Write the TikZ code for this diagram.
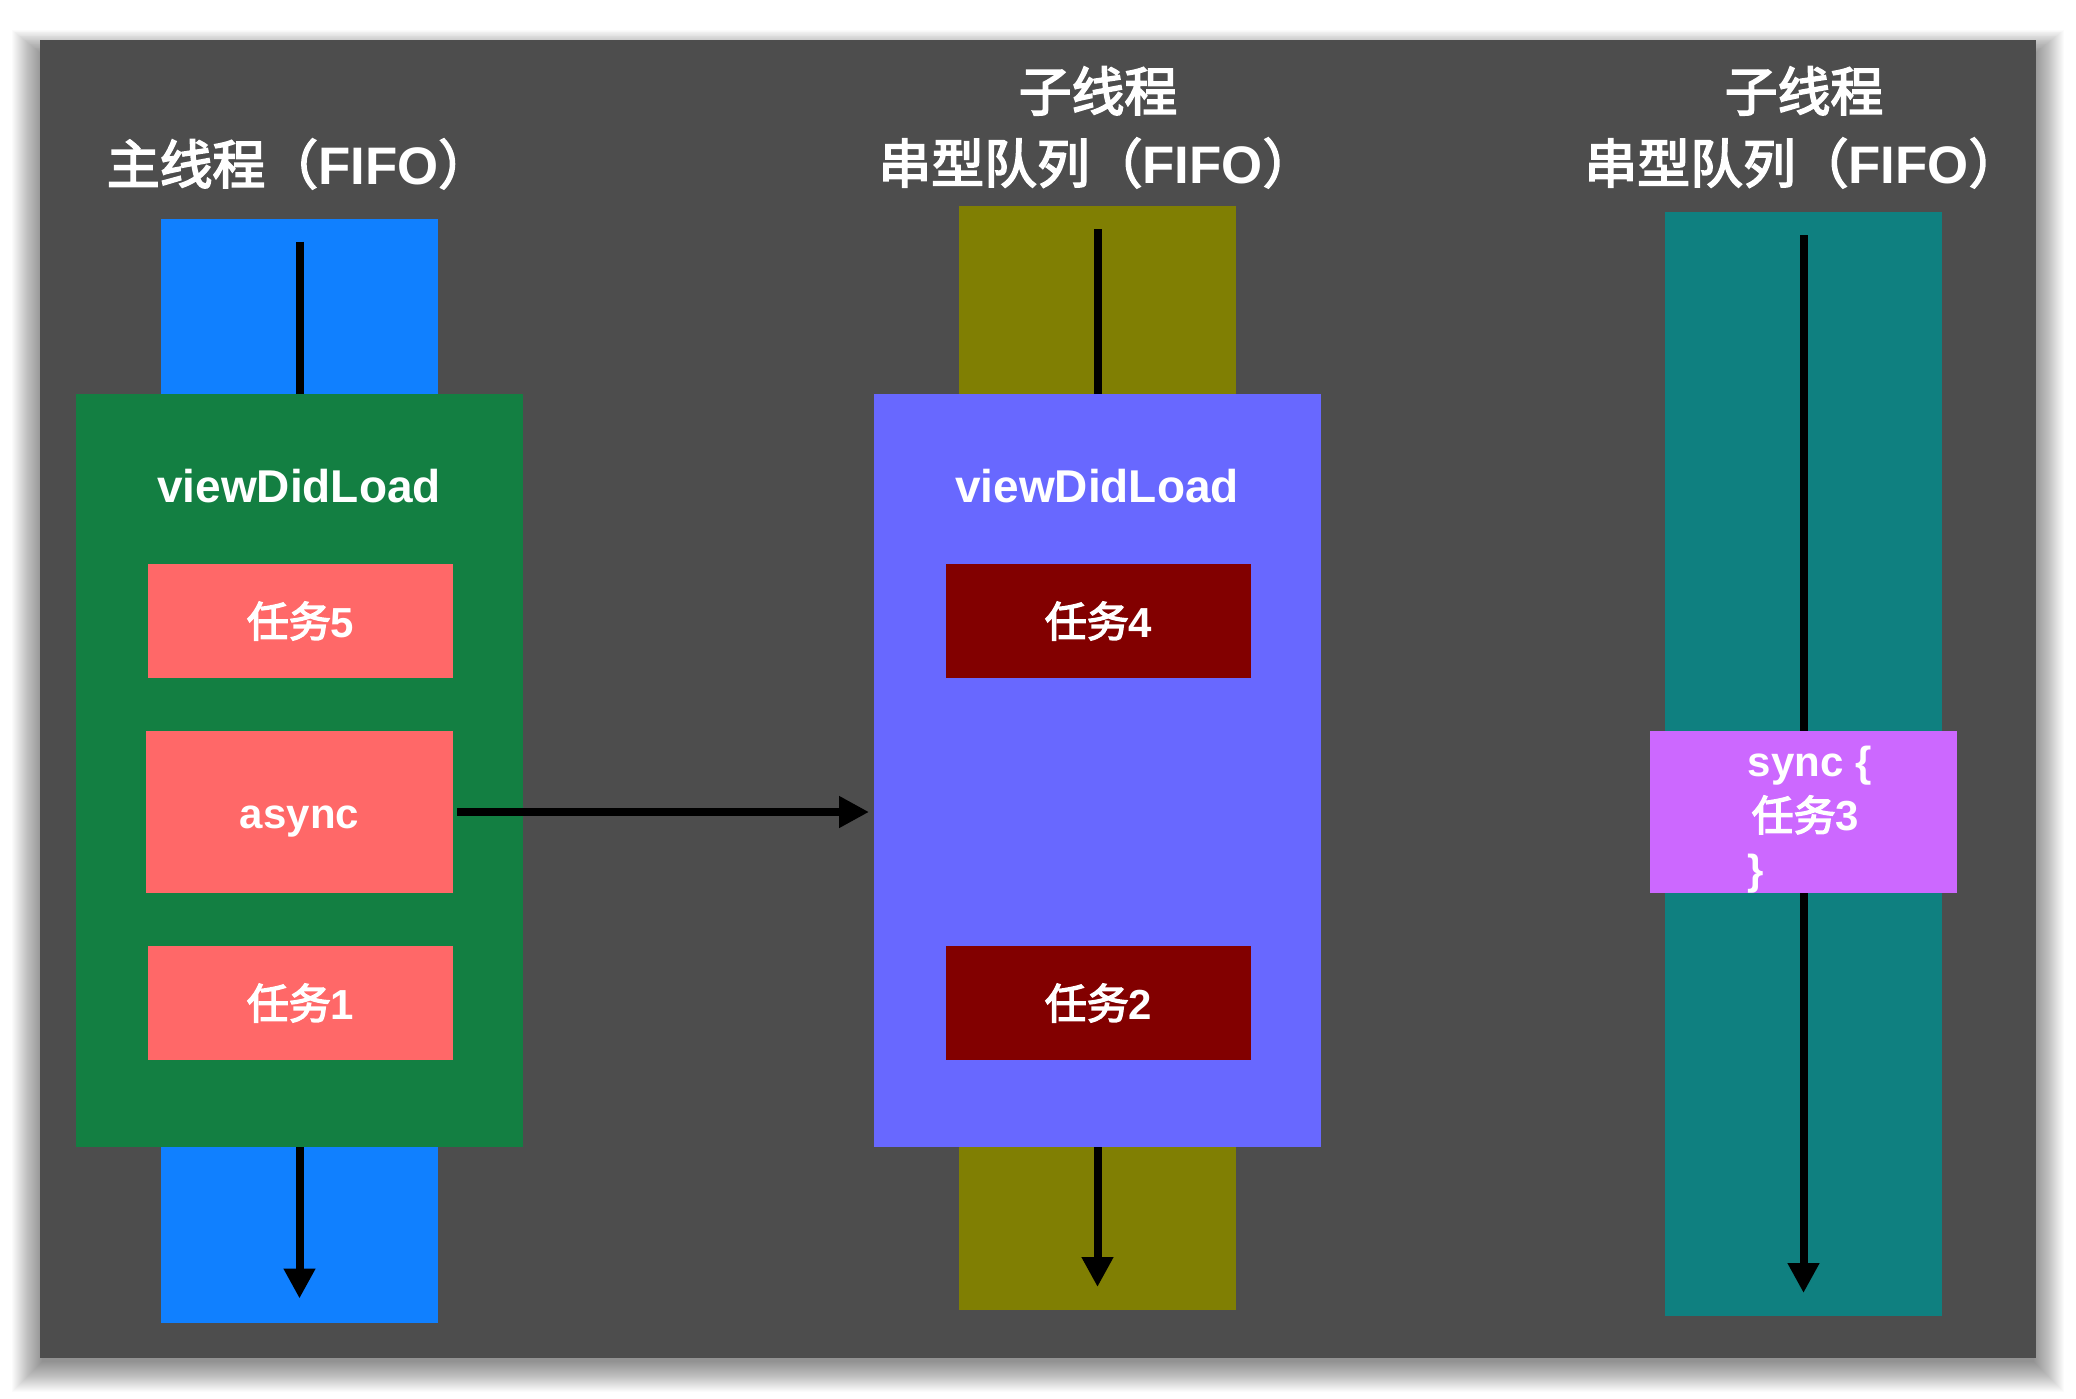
\documentclass[tikz,border=0pt]{standalone}
\usepackage{fontspec}
\setmainfont{Liberation Sans}
\newfontfamily\cjk{Noto Sans CJK SC}[FakeBold=3.2]
\usetikzlibrary{arrows.meta}
\definecolor{cpanel}{HTML}{4D4D4D}
\definecolor{cblue}{HTML}{1080FF}
\definecolor{cgreen}{HTML}{137F42}
\definecolor{csalmon}{HTML}{FF6868}
\definecolor{colive}{HTML}{807F03}
\definecolor{cpurple}{HTML}{6868FF}
\definecolor{cdarkred}{HTML}{820000}
\definecolor{cteal}{HTML}{0F8080}
\definecolor{cviolet}{HTML}{CC68FF}
\newcommand\ttlfont{\fontsize{26.4pt}{36pt}\selectfont\bfseries}
\newcommand\vdlfont{\fontsize{23pt}{28pt}\selectfont\bfseries}
\newcommand\tasklabel{\fontsize{21pt}{27pt}\selectfont\bfseries}
\newcommand\zh[1]{{\mdseries\cjk #1}}
\begin{document}
\begin{tikzpicture}[x=0.5pt,y=-0.5pt,
  every node/.style={inner sep=0pt,outer sep=0pt},
  column/.style={fill=#1,minimum width=138.5pt,minimum height=552pt},
  frame/.style={fill=#1,minimum width=223.5pt,minimum height=376.5pt},
  taskbox/.style={fill=#1,minimum width=152.5pt,minimum height=57pt,text=white,font=\tasklabel},
  oneline/.style={text height=19pt,text depth=3pt},
  bigbox/.style={minimum width=153.5pt,minimum height=81pt},
  flow/.style={line width=4pt,-{Triangle[width=15pt,length=15pt]}},
  ttl/.style={text=white,font=\ttlfont,anchor=base},
  vdl/.style={text=white,font=\vdlfont,anchor=base}]
% canvas and shadow
\fill[white] (0,0) rectangle (2076,1398);
\useasboundingbox (0,0) rectangle (2076,1398);
\foreach \i in {0,...,30}{
  \fill[black,opacity=0.016] (42-\i,54-0.8*\i) rectangle (2034+\i,1362+\i);
}
\fill[cpanel] (40,40) rectangle (2036,1358);
% titles
\node[ttl] (ttlA) at (299,184) {\zh{主线程（}FIFO\zh{）}};
\node[ttl] (ttlB1) at (1098,111) {\zh{子线程}};
\node[ttl] (ttlB2) at (1097,183) {\zh{串型队列（}FIFO\zh{）}};
\node[ttl] (ttlC1) at (1804,111) {\zh{子线程}};
\node[ttl] (ttlC2) at (1803,183) {\zh{串型队列（}FIFO\zh{）}};
% thread columns
\node[column=cblue] (colA) at (299.5,770.5) {};
\node[column=colive] (colB) at (1097.5,758) {};
\node[column=cteal] (colC) at (1803.5,764) {};
\draw[flow] ([yshift=-11.5pt]colA.north) -- ([yshift=12pt]colA.south);
\draw[flow] ([yshift=-11.5pt]colB.north) -- ([yshift=11.5pt]colB.south);
\draw[flow] ([yshift=-11.5pt]colC.north) -- ([yshift=11.5pt]colC.south);
% viewDidLoad frames
\node[frame=cgreen] (mainA) at (299.5,770.5) {};
\node[frame=cpurple] (mainB) at (1097.5,770.5) {};
\node[vdl] (vdlA) at (299,502) {viewDidLoad};
\node[vdl] (vdlB) at (1097,502) {viewDidLoad};
% tasks
\node[taskbox=csalmon,oneline] (t5) at (300.5,621) {\zh{任务}5};
\node[taskbox=csalmon,oneline,bigbox] (async) at (299.5,812) {async};
\node[taskbox=csalmon,oneline] (t1) at (300.5,1003) {\zh{任务}1};
\node[taskbox=cdarkred,oneline] (t4) at (1098.5,621) {\zh{任务}4};
\node[taskbox=cdarkred,oneline] (t2) at (1098.5,1003) {\zh{任务}2};
\node[taskbox=cviolet,bigbox] (sync) at (1803.5,812) {};
\node[text=white,font=\tasklabel,align=left,yshift=-4pt,xshift=3pt] (synctxt) at (sync.center) {sync \{\\\hspace{2pt}\zh{任务}3\\\}};
% async dispatch
\draw[flow] ([xshift=2pt]async.east) -- ([xshift=-2.5pt]async.east -| mainB.west);
\end{tikzpicture}
\end{document}
